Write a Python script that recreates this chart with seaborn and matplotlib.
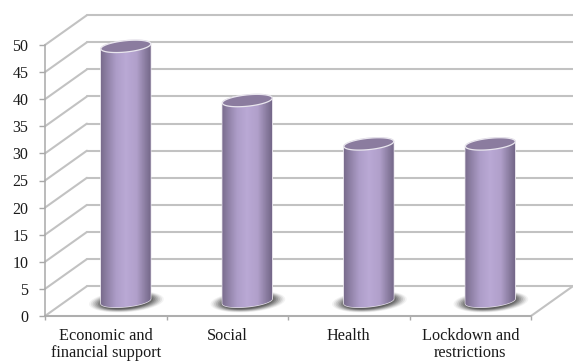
import numpy as np
import matplotlib
matplotlib.use("Agg")
import matplotlib.pyplot as plt
from matplotlib.patches import Polygon
from matplotlib.colors import LinearSegmentedColormap
import seaborn as sns

categories = ["Economic and\nfinancial support", "Social", "Health", "Lockdown and\nrestrictions"]
values = [47, 37, 29, 29]
y_ticks = list(range(0, 55, 5))

GRID = "#c2c2c2"
DEPTH_X, DEPTH_Y = 0.345, 5.5     # back wall offset in data units
FLOOR = 2.75                      # bars stand mid-way in the depth
SHIFT = 0.165                     # bar centre offset from category slot
BAR_W = 0.41
ELL_B, ELL_K = 1.05, 0.45

sns.set_theme(style="white", rc={"font.family": ["Liberation Serif"]})
fig = plt.figure(figsize=(5.73, 3.62), dpi=100, facecolor="white")
ax = fig.add_axes([45 / 573, 1 - 316 / 362, 486 / 573, 271 / 362])
ax.patch.set_alpha(0)

sns.barplot(x=categories, y=values, bottom=FLOOR, width=BAR_W, color="#b8a7d2",
            saturation=1, ax=ax, zorder=3)
xmin, xmax = -0.5 - SHIFT, 3.5 - SHIFT
ax.set_xlim(xmin, xmax)
ax.set_ylim(0, 50)

# back wall and side wall gridlines
for v in y_ticks:
    ax.plot([xmin + DEPTH_X, xmax + DEPTH_X], [v + DEPTH_Y] * 2, color=GRID, lw=1.5, clip_on=False, zorder=1)
    ax.plot([xmin, xmin + DEPTH_X], [v, v + DEPTH_Y], color=GRID, lw=1.5, clip_on=False, zorder=1)
ax.plot([xmin, xmax], [0, 0], color=GRID, lw=1.5, clip_on=False, zorder=1)
ax.plot([xmax, xmax + DEPTH_X], [0, DEPTH_Y], color=GRID, lw=1.5, clip_on=False, zorder=1)

cmap = LinearSegmentedColormap.from_list("cyl", [
    (0.0, "#7a6d8e"), (0.12, "#8f81a6"), (0.3, "#ad9dc8"), (0.5, "#baa9d5"),
    (0.72, "#b09fca"), (0.88, "#8d7fa3"), (1.0, "#75688a")])
t = np.linspace(0, 2 * np.pi, 120)


def ellipse(cx, cy, a, b, k, tt=t):
    return np.column_stack([cx + a * np.cos(tt), cy + b * np.sin(tt) + k * np.cos(tt)])


for patch in list(ax.patches):
    x0, w = patch.get_x(), patch.get_width()
    y0, h = patch.get_y(), patch.get_height()
    cx, a = x0 + w / 2, w / 2
    top = y0 + h
    patch.set_visible(False)
    # soft floor shadow
    for f, al in zip(np.linspace(1.5, 1.0, 8), [.06, .09, .12, .15, .18, .22, .26, .3]):
        ax.add_patch(Polygon(ellipse(cx + 0.005, y0 - 0.1, a * f, 1.3 * f, ELL_K),
                             fc="#333333", ec="none", alpha=al, zorder=2, clip_on=False))
    # body: lower half of base ellipse + upper half of top ellipse
    low = ellipse(cx, y0, a, ELL_B, ELL_K, np.linspace(np.pi, 2 * np.pi, 60))
    up = ellipse(cx, top, a, ELL_B, ELL_K, np.linspace(0, np.pi, 60))
    body = Polygon(np.vstack([low, up]), transform=ax.transData, fc="#b8a7d2", ec="#e4e0e8",
                   lw=1.0, zorder=3, clip_on=False)
    ax.add_patch(body)
    im = ax.imshow(np.linspace(0, 1, 100)[None, :], cmap=cmap, aspect="auto", zorder=3.1,
                   extent=[x0, x0 + w, y0 - 2, top + 2], clip_on=True)
    im.set_clip_path(body)
    # top cap
    ax.add_patch(Polygon(ellipse(cx, top, a, ELL_B, ELL_K), fc="#8b7c9f", ec="#e9e6ee",
                         lw=0.9, zorder=4, clip_on=False))

ax.set_xlim(xmin, xmax)
ax.set_ylim(0, 50)

for s in ("top", "right"):
    ax.spines[s].set_visible(False)
for s in ("left", "bottom"):
    ax.spines[s].set_color("#a8a8a8")
    ax.spines[s].set_linewidth(1.1)
ax.set_yticks(y_ticks)
ax.set_yticklabels([str(v) for v in y_ticks], fontsize=11.5, color="#1a1a1a")
ax.set_xticks(np.arange(4) - SHIFT)
ax.set_xticklabels(categories, fontsize=11.7, color="#1a1a1a", linespacing=1.05)
ax.set_xticks(np.arange(5) - 0.5 - SHIFT, minor=True)
ax.tick_params(axis="x", which="major", length=0, pad=9)
ax.tick_params(axis="x", which="minor", length=3, width=1, color="#a8a8a8", bottom=True)
ax.tick_params(axis="y", length=4, width=1, color="#a8a8a8", left=True, pad=8)
ax.grid(False)

fig.savefig("out.png", dpi=100)
